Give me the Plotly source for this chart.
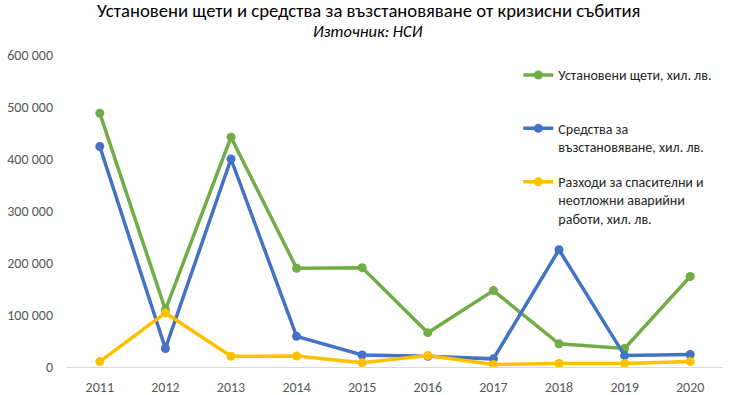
import plotly.graph_objects as go

years = ["2011", "2012", "2013", "2014", "2015", "2016", "2017", "2018", "2019", "2020"]
damages = [488000, 110000, 442000, 190000, 191000, 66000, 147000, 44500, 35500, 174000]
recovery = [424000, 35500, 400000, 59000, 23000, 20700, 15700, 225500, 22000, 24000]
rescue = [10500, 104000, 20700, 21000, 8000, 22000, 5000, 6700, 6500, 10500]

names = [
    "Установени щети, хил. лв.<br> ",
    "Средства за<br>възстановяване, хил. лв.",
    "Разходи за спасителни и<br>неотложни аварийни<br>работи, хил. лв.",
]
colors = ["#70AD47", "#4472C4", "#FFC000"]
series = [damages, recovery, rescue]

font_family = "Carlito, Calibri, 'Liberation Sans', sans-serif"

fig = go.Figure()
for i, (vals, nm, col) in enumerate(zip(series, names, colors)):
    fig.add_trace(go.Scatter(
        x=years, y=vals, name=nm, mode="lines+markers",
        line=dict(color=col, width=3.5),
        marker=dict(color=col, size=9),
        legendgroup=f"g{i}",
    ))

fig.update_layout(
    width=730, height=395,
    margin=dict(l=67, r=7, t=55, b=28),
    paper_bgcolor="white", plot_bgcolor="white",
    font=dict(family=font_family, color="#595959", size=14),
    showlegend=True,
    legend=dict(
        x=0.688, y=0.986, xanchor="left", yanchor="top", valign="top",
        font=dict(size=14, color="#262626", family=font_family),
        tracegroupgap=14, bgcolor="rgba(0,0,0,0)",
    ),
    xaxis=dict(
        type="category", range=[-0.5, 9.5], showgrid=False,
        showline=True, linecolor="#D9D9D9", linewidth=1,
        ticks="", tickfont=dict(size=14, color="#595959"),
        zeroline=False, ticklabelstandoff=7, automargin=False,
    ),
    yaxis=dict(
        range=[0, 600000], tickvals=[0, 100000, 200000, 300000, 400000, 500000, 600000],
        ticktext=["0", "100 000", "200 000", "300 000", "400 000", "500 000", "600 000"],
        showgrid=False, zeroline=False, showline=False,
        tickfont=dict(size=14, color="#595959"), ticklabelstandoff=13, automargin=False,
    ),
    annotations=[
        dict(text="Установени щети и средства за възстановяване от кризисни събития",
             xref="paper", yref="paper", x=0.4596, y=1, xanchor="center", yanchor="bottom",
             yshift=31, showarrow=False, font=dict(size=18.7, color="#000000", family=font_family)),
        dict(text="<i>Източник: НСИ</i>",
             xref="paper", yref="paper", x=0.4596, y=1, xanchor="center", yanchor="bottom",
             yshift=12, showarrow=False, font=dict(size=16.5, color="#000000", family=font_family)),
    ],
)

# remove the default 8px page margin so the figure fills the window exactly
fig.write_html("out.html", config={"displayModeBar": False},
               post_script="document.body.style.margin='0px';")
